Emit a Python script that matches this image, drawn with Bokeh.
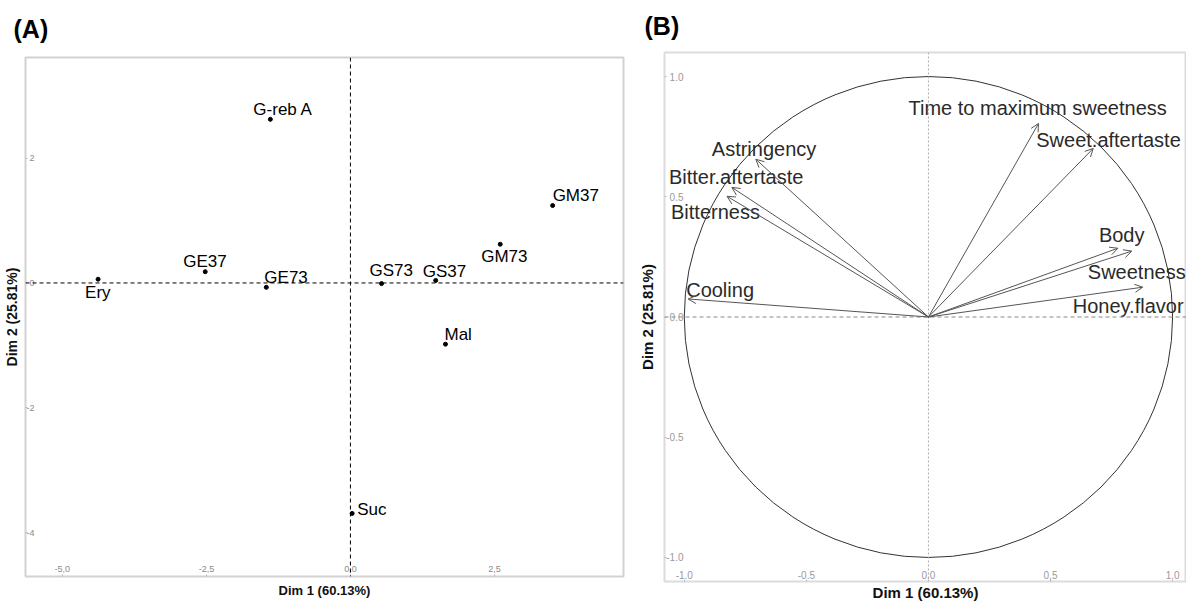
from bokeh.plotting import figure
from bokeh.models import Range1d, Span, FixedTicker, ColumnDataSource, Arrow, OpenHead
from bokeh.layouts import row, column
from bokeh.embed import file_html
from bokeh.resources import INLINE
from bokeh.core.properties import value

# ---------------- Panel A data (individuals map) ----------------
a_names = ["G-reb A", "Ery", "GE37", "GE73", "GS73", "GS37", "GM73", "GM37", "Mal", "Suc"]
a_dim1 = [-1.39, -4.38, -2.52, -1.46, 0.54, 1.48, 2.60, 3.51, 1.65, 0.03]
a_dim2 = [2.62, 0.06, 0.18, -0.07, -0.01, 0.04, 0.62, 1.24, -0.98, -3.69]
a_xticks = [-5.0, -2.5, 0.0, 2.5]
a_xtick_labels = ["-5,0", "-2,5", "0,0", "2,5"]
a_yticks = [-4.0, -2.0, 0.0, 2.0]
a_ytick_labels = ["-4", "-2", "0", "2"]

# ---------------- Panel B data (variables factor map) ----------------
b_vars = ["Astringency", "Bitter.aftertaste", "Bitterness", "Cooling",
          "Time to maximum sweetness", "Sweet.aftertaste", "Body", "Sweetness", "Honey.flavor"]
b_dim1 = [-0.707, -0.805, -0.825, -0.984, 0.451, 0.675, 0.776, 0.833, 0.878]
b_dim2 = [0.656, 0.539, 0.502, 0.075, 0.805, 0.701, 0.286, 0.274, 0.124]
b_xticks = [-1.0, -0.5, 0.0, 0.5, 1.0]
b_xtick_labels = ["-1.0", "-0.5", "0.0", "0,5", "1.0"]
b_yticks = [-1.0, -0.5, 0.0, 0.5, 1.0]
b_ytick_labels = ["-1.0", "-0.5", "0.0", "0.5", "1.0"]

dim1_title = "Dim 1 (60.13%)"
dim2_title = "Dim 2 (25.81%)"
panel_tags = ["(A)", "(B)"]

# label placement (screen pixels, layout only)
a_label_dx = [-17, -13, -22, -2, -12, -13, -19, 0, -1, 5]
a_label_dy = [-10, 13, -10, -10, -13, -9, 12, -10, -10, -4]
b_label_dx = [-44, -63, -56, -2, -130, -57, -19, -44, -70]
b_label_dy = [-10, -10, 16, -9, -15, -8, -13, 21, 19]

FONT = "Liberation Sans"


def style_axes(p, xt, xl, yt, yl, tick_size, tick_color, x_standoff, y_standoff,
               xl_standoff, yl_standoff, xtitle_size, ytitle_size):
    p.xaxis.ticker = FixedTicker(ticks=xt)
    p.yaxis.ticker = FixedTicker(ticks=yt)
    p.xaxis.major_label_overrides = {t: s for t, s in zip(xt, xl)}
    p.yaxis.major_label_overrides = {t: s for t, s in zip(yt, yl)}
    for ax in (p.xaxis[0], p.yaxis[0]):
        ax.axis_line_color = None
        ax.major_tick_out = 0
        ax.major_tick_in = 2
        ax.major_tick_line_color = "#bbbbbb"
        ax.minor_tick_line_color = None
        ax.major_label_text_font = FONT
        ax.major_label_text_font_size = f"{tick_size}px"
        ax.major_label_text_color = tick_color
        ax.axis_label_text_font = FONT
        ax.axis_label_text_font_style = "bold"
        ax.axis_label_text_color = "#111111"
    p.xaxis.axis_label_text_font_size = f"{xtitle_size}px"
    p.yaxis.axis_label_text_font_size = f"{ytitle_size}px"
    p.xaxis.major_label_standoff = x_standoff
    p.yaxis.major_label_standoff = y_standoff
    p.xaxis.axis_label_standoff = xl_standoff
    p.yaxis.axis_label_standoff = yl_standoff
    p.xaxis.axis_label = dim1_title
    p.yaxis.axis_label = dim2_title
    p.xgrid.visible = False
    p.ygrid.visible = False


def style_title(p, text, offset, standoff):
    p.title.text = text
    p.title.text_font = FONT
    p.title.text_font_size = "25px"
    p.title.text_font_style = "bold"
    p.title.text_color = "black"
    p.title.vertical_align = "top"
    p.title.offset = offset
    p.title.standoff = standoff


# ---------------- Panel A ----------------
pA = figure(width=636, height=603, output_backend="svg", toolbar_location=None,
            x_range=Range1d(-5.64, 4.74), y_range=Range1d(-4.70, 3.61),
            min_border_left=25, min_border_right=13, min_border_top=57, min_border_bottom=27)
style_title(pA, panel_tags[0], -12, 26)
pA.outline_line_color = "#d2d2d2"
pA.outline_line_width = 2
style_axes(pA, a_xticks, a_xtick_labels, a_yticks, a_ytick_labels, 9, "#8a8a8a",
           -11, -9, 8, 3, 13, 14)

pA.add_layout(Span(location=0, dimension="width", line_color="black", line_dash="4 3", line_width=1))
pA.add_layout(Span(location=0, dimension="height", line_color="black", line_dash="4 3", line_width=1))

srcA = ColumnDataSource(dict(x=a_dim1, y=a_dim2, name=a_names, dx=a_label_dx, dy=a_label_dy))
pA.scatter("x", "y", source=srcA, size=4, color="black")
pA.text("x", "y", text="name", source=srcA, x_offset="dx", y_offset="dy",
        text_font=value(FONT), text_font_size="17px", text_color="black",
        text_align="left", text_baseline="middle")

# ---------------- Panel B ----------------
pB = figure(width=550, height=603, output_backend="svg", toolbar_location=None,
            x_range=Range1d(-1.081, 1.057), y_range=Range1d(-1.10, 1.10),
            min_border_left=24, min_border_right=0, min_border_top=52, min_border_bottom=21)
style_title(pB, panel_tags[1], -20, 21)
pB.outline_line_color = "#dcdcdc"
pB.outline_line_width = 2
style_axes(pB, b_xticks, b_xtick_labels, b_yticks, b_ytick_labels, 10, "#9a9a9a",
           -11, -19, 2, 7, 15, 15)

pB.add_layout(Span(location=0, dimension="width", line_color="#888888", line_dash="4 3", line_width=1))
pB.add_layout(Span(location=0, dimension="height", line_color="#aaaaaa", line_dash="2 2", line_width=1))

pB.ellipse(x=0, y=0, width=2, height=2, fill_color=None, line_color="#333333", line_width=1)

srcB = ColumnDataSource(dict(x0=[0.0] * len(b_vars), y0=[0.0] * len(b_vars),
                             x=b_dim1, y=b_dim2, name=b_vars, dx=b_label_dx, dy=b_label_dy))
pB.add_layout(Arrow(end=OpenHead(size=8, line_color="#555555", line_width=1),
                    x_start="x0", y_start="y0", x_end="x", y_end="y", source=srcB,
                    line_color="#555555", line_width=1))
pB.text("x", "y", text="name", source=srcB, x_offset="dx", y_offset="dy",
        text_font=value(FONT), text_font_size="20px", text_color="#2a2a2a",
        text_align="left", text_baseline="middle")

layout = row(column(pA), column(pB))
open("out.html", "w").write(file_html(layout, INLINE))
